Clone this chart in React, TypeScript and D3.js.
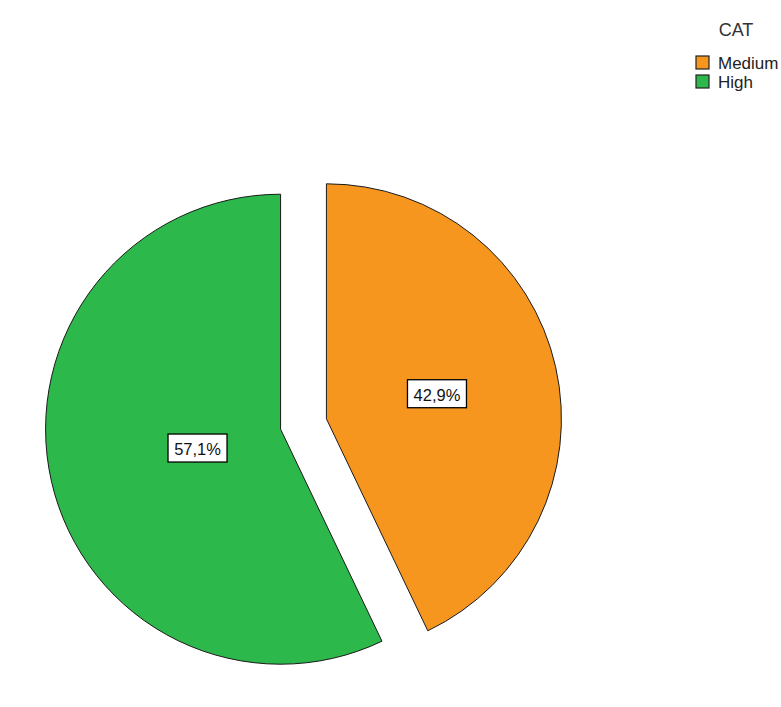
import React from "react";
import * as d3 from "d3";

const categories = ["Medium", "High"];
const values = [42.9, 57.1];
const labels = ["42,9%", "57,1%"];
const colors = ["#f7961e", "#2cb84a"];
const legendTitle = "CAT";

const W = 781;
const H = 707;

function labelPos(a0: number, a1: number, r: number): [number, number] {
  const mid = (a0 + a1) / 2;
  const half = (a1 - a0) / 2;
  const cd = (2 * r * Math.sin(half)) / (3 * half);
  return [Math.sin(mid) * cd, -Math.cos(mid) * cd];
}

export default function App() {
  const cx = 303.5;
  const cy = 424;
  const r = 235;
  const explode = 23.5;

  const pie = d3.pie<number>().sort(null).startAngle(0).endAngle(2 * Math.PI);
  const arcs = pie(values);
  const arc = d3.arc<d3.PieArcDatum<number>>().innerRadius(0).outerRadius(r);

  const font = "Arial, 'Liberation Sans', sans-serif";

  return (
    <svg
      width={W}
      height={H}
      style={{ position: "absolute", left: 0, top: 0, background: "#fff" }}
      fontFamily={font}
    >
      <rect width={W} height={H} fill="#fff" />
      {arcs.map((a, i) => {
        const mid = (a.startAngle + a.endAngle) / 2;
        const dx = Math.sin(mid) * explode;
        const dy = -Math.cos(mid) * explode;
        const [lx, ly] = labelPos(a.startAngle, a.endAngle, r);
        const bw = 59;
        const bh = 28;
        return (
          <g key={categories[i]} transform={`translate(${cx + dx},${cy + dy})`}>
            <path d={arc(a) || ""} fill={colors[i]} stroke="#1a1a1a" strokeWidth={1} />
            <rect
              x={lx - bw / 2}
              y={ly - bh / 2}
              width={bw}
              height={bh}
              fill="#fff"
              stroke="#000"
              strokeWidth={1.3}
            />
            <text x={lx} y={ly + 1} textAnchor="middle" dominantBaseline="central" fontSize={16.5} fill="#111">
              {labels[i]}
            </text>
          </g>
        );
      })}
      <g>
        <text x={736} y={36} textAnchor="middle" fontSize={18} fill="#333">
          {legendTitle}
        </text>
        {categories.map((c, i) => (
          <g key={c} transform={`translate(696,${56 + i * 19})`}>
            <rect x={0} y={0} width={13} height={13} fill={colors[i]} stroke="#222" strokeWidth={1.2} />
            <text x={22} y={12.5} fontSize={17} fill="#222">
              {c}
            </text>
          </g>
        ))}
      </g>
    </svg>
  );
}
